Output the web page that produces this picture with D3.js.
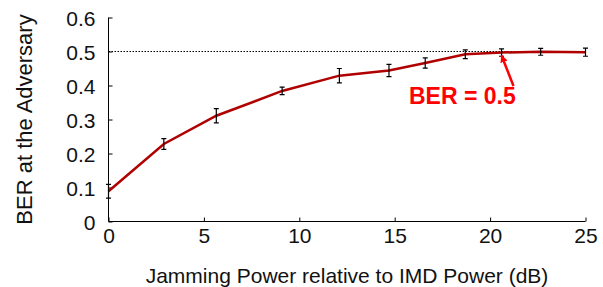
<!DOCTYPE html>
<html>
<head>
<meta charset="utf-8">
<script src="https://cdn.jsdelivr.net/npm/d3@7"></script>
<style>
  body { margin: 0; background: #fff; }
  svg { display: block; font-family: "Liberation Sans", Arial, sans-serif; }
</style>
</head>
<body>
<svg id="chart" width="603" height="287"></svg>
<script>
// values
const powerDb = [0, 2.9, 5.65, 9.1, 12.1, 14.7, 16.6, 18.7, 20.6, 22.65, 25]
const ber     = [0.089, 0.228, 0.311, 0.384, 0.429, 0.444, 0.466, 0.492, 0.497, 0.499, 0.498]
const berErr  = [0.02, 0.016, 0.021, 0.011, 0.021, 0.018, 0.015, 0.013, 0.011, 0.01, 0.012]
const xTicks = [0, 5, 10, 15, 20, 25]
const yTicks = [0, 0.1, 0.2, 0.3, 0.4, 0.5, 0.6]
const refLevel = 0.5
const annotation = 'BER = 0.5'
const annotatedIndex = 8

const points = powerDb.map((p, i) => ({x: p, y: ber[i], e: berErr[i]}))

const svg = d3.select('#chart')
const x = d3.scaleLinear([0, 25], [108.5, 585.5])
const y = d3.scaleLinear([0, 0.6], [221.5, 17.5])

// axes, ticks pointing inward
const xAxis = d3.axisBottom(x).tickValues(xTicks).tickSize(-4).tickPadding(7).tickFormat(d3.format('d'))
const gx = svg.append('g').attr('transform', `translate(0, ${y(0)})`).call(xAxis)
const yAxis = d3.axisLeft(y).tickValues(yTicks).tickSize(-4).tickPadding(13).tickFormat(d => d === 0 ? '0' : d3.format('.1f')(d))
const gy = svg.append('g').attr('transform', `translate(${x(0)}, 0)`).call(yAxis)

for (const g of [gx, gy]) {
  g.select('.domain').attr('stroke', '#000').attr('stroke-width', 1)
  g.selectAll('.tick line').attr('stroke', '#000')
  g.selectAll('.tick text').attr('font-size', '21px').attr('fill', '#111')
}
gx.select('.domain').attr('d', `M${x(0)},0H${x(25)}`)
gy.select('.domain').attr('d', `M0,${y(0)}V${y(0.6)}`)
gx.selectAll('.tick text').attr('dy', '0.71em')
gy.selectAll('.tick text').attr('dy', '0.36em')

// reference line at 0.5
svg.append('line')
  .attr('x1', x(0)).attr('x2', x(25))
  .attr('y1', y(refLevel)).attr('y2', y(refLevel))
  .attr('stroke', '#000')
  .attr('stroke-width', 1)
  .attr('stroke-dasharray', '1.5,1.5')

// data line
svg.append('path')
  .datum(points)
  .attr('fill', 'none')
  .attr('stroke', '#b00000')
  .attr('stroke-width', 2.5)
  .attr('d', d3.line().x(d => x(d.x)).y(d => y(d.y)))

// error bars
const eb = svg.append('g').attr('stroke', '#000').attr('stroke-width', 1.2)
eb.selectAll('.bar')
  .data(points)
  .join('path')
  .attr('fill', 'none')
  .attr('d', d => {
    const cx = x(d.x), y1 = y(d.y - d.e), y2 = y(d.y + d.e)
    return `M${cx},${y1}V${y2}M${cx - 2.5},${y1}H${cx + 2.5}M${cx - 2.5},${y2}H${cx + 2.5}`
  })

// annotation
const target = points[annotatedIndex]
svg.append('defs').append('marker')
  .attr('id', 'arrow')
  .attr('viewBox', '0 0 10 10')
  .attr('refX', 9).attr('refY', 5)
  .attr('markerWidth', 3).attr('markerHeight', 3)
  .attr('orient', 'auto')
  .append('path')
  .attr('d', 'M0,0L10,5L0,10z')
  .attr('fill', '#ff0000')

svg.append('line')
  .attr('x1', 513.5).attr('y1', 86)
  .attr('x2', x(target.x)).attr('y2', y(target.y) + 3)
  .attr('stroke', '#ff0000')
  .attr('stroke-width', 2.5)
  .attr('marker-end', 'url(#arrow)')

svg.append('text')
  .text(annotation)
  .attr('x', 409)
  .attr('y', 104)
  .attr('font-size', '23px')
  .attr('font-weight', 'bold')
  .attr('fill', '#ff0000')

// axis titles
svg.append('text')
  .text('Jamming Power relative to IMD Power (dB)')
  .attr('x', (x(0) + x(25)) / 2)
  .attr('y', 283)
  .attr('text-anchor', 'middle')
  .attr('font-size', '21px')
  .attr('fill', '#111')

svg.append('text')
  .text('BER at the Adversary')
  .attr('transform', `translate(31.5, ${(y(0) + y(0.6)) / 2}) rotate(-90)`)
  .attr('text-anchor', 'middle')
  .attr('font-size', '22px')
  .attr('fill', '#111')
</script>
</body>
</html>
